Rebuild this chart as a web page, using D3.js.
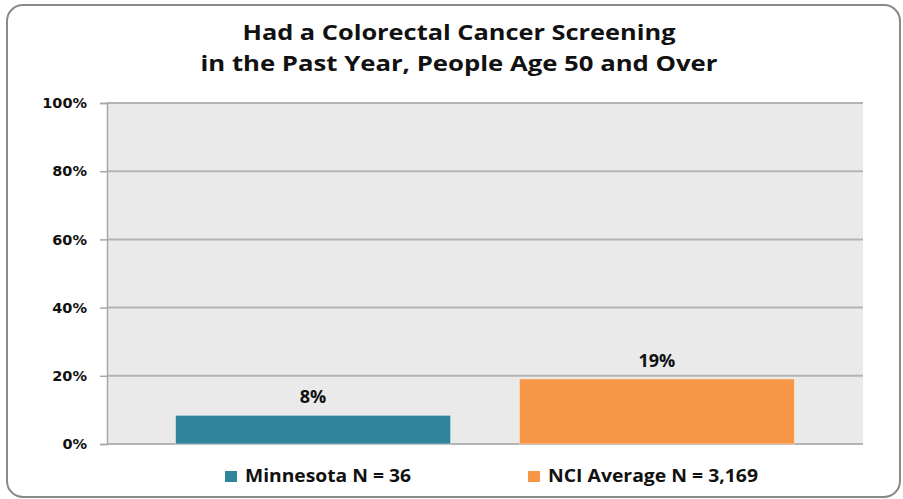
<!DOCTYPE html>
<html>
<head>
<meta charset="utf-8">
<script src="https://cdn.jsdelivr.net/npm/d3@7"></script>
<style>
  html, body { margin: 0; padding: 0; background: #fff; }
  svg { display: block; }
</style>
</head>
<body>
<svg id="chart" width="903" height="499"></svg>
<script>
// Screening rates, people age 50 and over
const categories = ["Had a Colorectal Cancer Screening"];
const seriesNames = ["Minnesota N = 36", "NCI Average N = 3,169"];
const seriesValues = [8.4, 19.1];
const seriesColors = ["#31849B", "#F79646"];
const yTicks = [0, 20, 40, 60, 80, 100];
const titleLines = ["Had a Colorectal Cancer Screening", "in the Past Year, People Age 50 and Over"];

const svg = d3.select("#chart");
const plot = { left: 107, right: 863, top: 103, bottom: 444 };
const textFont = "'Open Sans', Lato, sans-serif";

// outer frame with rounded corners
svg.append("rect")
  .attr("x", 7).attr("y", 5)
  .attr("width", 893).attr("height", 492)
  .attr("rx", 16).attr("ry", 16)
  .attr("fill", "#fff")
  .attr("stroke", "#8a8a8a")
  .attr("stroke-width", 2);

// title, two lines, slightly widened
const titleWidths = [433, 517];
svg.append("g").selectAll("text").data(titleLines).join("text")
  .attr("x", 459).attr("y", (d, i) => 40 + i * 31)
  .attr("text-anchor", "middle")
  .attr("font-family", textFont)
  .attr("font-weight", "bold")
  .attr("font-size", 21)
  .attr("fill", "#111")
  .attr("textLength", (d, i) => titleWidths[i])
  .attr("lengthAdjust", "spacingAndGlyphs")
  .text(d => d);

const y = d3.scaleLinear().domain([0, 100]).range([plot.bottom, plot.top]);
const x0 = d3.scaleBand().domain(categories).range([plot.left, plot.right]).paddingOuter(0.1107).paddingInner(0);
const x1 = d3.scaleBand().domain(seriesNames).range([0, x0.bandwidth()]).paddingInner(0.2).paddingOuter(0);

// plot background
svg.append("rect")
  .attr("x", plot.left).attr("y", plot.top)
  .attr("width", plot.right - plot.left).attr("height", plot.bottom - plot.top)
  .attr("fill", "#EAEAEA");

// gridlines
svg.append("g").selectAll("line").data(yTicks).join("line")
  .attr("x1", plot.left).attr("x2", plot.right)
  .attr("y1", d => y(d)).attr("y2", d => y(d))
  .attr("stroke", "#B4B4B4").attr("stroke-width", 2);

// y axis
const yAxis = d3.axisLeft(y).tickValues(yTicks).tickSize(7).tickPadding(13).tickFormat(d => d + "%");
const gy = svg.append("g").attr("transform", `translate(${plot.left},0)`).call(yAxis);
gy.select(".domain").attr("stroke", "#A8A8A8").attr("stroke-width", 1.5);
gy.selectAll(".tick line").attr("stroke", "#A8A8A8").attr("stroke-width", 1.5);
gy.selectAll(".tick text")
  .attr("font-family", "'DejaVu Sans', Verdana, sans-serif")
  .attr("font-weight", "bold")
  .attr("font-size", 14.5)
  .attr("fill", "#111");

// bars
const rows = seriesNames.map((s, i) => ({ cat: categories[0], name: s, value: seriesValues[i], color: seriesColors[i] }));
svg.append("g").selectAll("rect").data(rows).join("rect")
  .attr("x", d => x0(d.cat) + x1(d.name))
  .attr("y", d => y(d.value))
  .attr("width", x1.bandwidth())
  .attr("height", d => y(0) - y(d.value))
  .attr("fill", d => d.color)
  .attr("stroke", "rgba(255,255,255,0.45)")
  .attr("stroke-width", 1);

// value labels
svg.append("g").selectAll("text").data(rows).join("text")
  .attr("x", d => x0(d.cat) + x1(d.name) + x1.bandwidth() / 2)
  .attr("y", d => y(d.value) - 12)
  .attr("text-anchor", "middle")
  .attr("font-family", textFont)
  .attr("font-weight", "bold")
  .attr("font-size", 18)
  .attr("fill", "#111")
  .text(d => Math.round(d.value) + "%");

// legend
const legendX = [225, 528];
const legendTextW = [166, 210];
const lg = svg.append("g").selectAll("g").data(rows).join("g")
  .attr("transform", (d, i) => `translate(${legendX[i]},471)`);
lg.append("rect").attr("width", 12).attr("height", 11).attr("fill", d => d.color);
lg.append("text")
  .attr("x", 20).attr("y", 11)
  .attr("font-family", textFont)
  .attr("font-weight", "bold")
  .attr("font-size", 17)
  .attr("fill", "#111")
  .attr("textLength", (d, i) => legendTextW[i])
  .attr("lengthAdjust", "spacingAndGlyphs")
  .text(d => d.name);
</script>
</body>
</html>
